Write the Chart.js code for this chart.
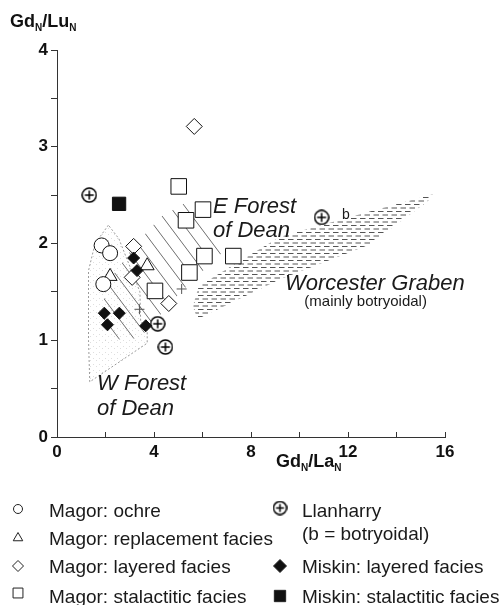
<!DOCTYPE html>
<html>
<head>
<meta charset="utf-8">
<script src="https://cdn.jsdelivr.net/npm/chart.js@4.4.0/dist/chart.umd.min.js"></script>
<style>
  html, body { margin: 0; padding: 0; background: #fff; }
  #wrap { width: 502px; height: 605px; position: relative; }
</style>
</head>
<body>
<div id="wrap"><canvas id="chart"></canvas></div>
<script>
// Gd_N/La_N on x, Gd_N/Lu_N on y
const ochreX = [1.84, 2.19, 1.91];
const ochreY = [1.98, 1.90, 1.58];
const replacementX = [2.19, 3.72];
const replacementY = [1.66, 1.77];
const layeredX = [3.16, 3.10, 4.61, 5.66];
const layeredY = [1.97, 1.65, 1.38, 3.21];
const stalactiticX = [5.02, 5.32, 6.02, 6.08, 7.27, 5.46, 4.04];
const stalactiticY = [2.59, 2.24, 2.35, 1.87, 1.87, 1.70, 1.51];
const llanharryX = [1.33, 4.15, 4.47, 10.91];
const llanharryY = [2.50, 1.17, 0.93, 2.27];
const miskinLayeredX = [3.16, 3.30, 1.95, 2.57, 2.08, 3.66];
const miskinLayeredY = [1.85, 1.72, 1.28, 1.28, 1.16, 1.15];
const miskinStalX = [2.56];
const miskinStalY = [2.41];
const centreX = [5.14, 3.40];
const centreY = [1.53, 1.32];

// field outlines
const wForestX = [2.12, 1.57, 1.30, 1.30, 1.35, 3.72, 3.72, 3.45, 3.42, 2.55, 2.12];
const wForestY = [2.19, 2.00, 1.72, 1.00, 0.57, 0.97, 1.12, 1.20, 1.50, 2.05, 2.19];
const eForestX = [1.90, 1.95, 3.20, 4.30, 5.50, 7.00, 5.10, 3.40, 2.00];
const eForestY = [1.10, 1.55, 1.98, 2.28, 2.45, 1.95, 1.50, 1.02, 1.00];
const worcesterX = [5.60, 5.85, 9.20, 12.90, 15.50, 15.30, 12.90, 9.20, 5.80];
const worcesterY = [1.35, 1.56, 2.07, 2.33, 2.51, 2.44, 1.99, 1.63, 1.22];

const xTicks = [0, 4, 8, 12, 16];
const yTicks = [0, 1, 2, 3, 4];

const FONT = "'Liberation Sans', Arial, sans-serif";
const pts = (xs, ys) => xs.map((x, i) => ({ x: x, y: ys[i] }));

function tile(w, h, draw) {
    const c = document.createElement('canvas');
    c.width = w;
    c.height = h;
    const g = c.getContext('2d');
    draw(g);
    return g.createPattern(c, 'repeat');
}

const hatch = tile(15, 20, g => {
    g.strokeStyle = '#5e5e5e';
    g.lineWidth = 0.9;
    for (const dx of [-15, 0, 15]) {
        g.beginPath();
        g.moveTo(dx - 15, -20);
        g.lineTo(dx + 30, 40);
        g.stroke();
    }
});

const dashes = tile(9, 7, g => {
    g.strokeStyle = '#555';
    g.lineWidth = 1;
    g.beginPath();
    g.moveTo(0, 1.5); g.lineTo(5.5, 1.5);
    g.moveTo(4.5, 5); g.lineTo(10, 5);
    g.moveTo(-4.5, 5); g.lineTo(1, 5);
    g.stroke();
});

const stipple = tile(6, 6, g => {
    g.fillStyle = '#dedede';
    g.fillRect(0, 0, 1, 1);
    g.fillRect(3, 4, 1, 1);
});

function circlePlus(size) {
    const c = document.createElement('canvas');
    c.width = c.height = size;
    const g = c.getContext('2d');
    const m = size / 2, r = size / 2 - 1;
    g.strokeStyle = '#000';
    g.fillStyle = '#fff';
    g.lineWidth = 1.5;
    g.beginPath();
    g.arc(m, m, r, 0, Math.PI * 2);
    g.fill();
    g.stroke();
    g.beginPath();
    g.moveTo(m, m - r + 2.5); g.lineTo(m, m + r - 2.5);
    g.moveTo(m - r + 2.5, m); g.lineTo(m + r - 2.5, m);
    g.stroke();
    return c;
}
const plusIcon = circlePlus(16);
const plusIconSmall = circlePlus(15);

function marker(label, xs, ys, style, radius, fill, extra) {
    return Object.assign({
        label: label,
        data: pts(xs, ys),
        pointStyle: style,
        pointRadius: radius,
        pointHoverRadius: radius,
        backgroundColor: fill,
        borderColor: '#111',
        borderWidth: 1,
        order: 1
    }, extra || {});
}

function field(label, xs, ys, pattern, extra) {
    return Object.assign({
        type: 'line',
        label: label,
        data: pts(xs, ys),
        fill: 'shape',
        backgroundColor: pattern,
        borderColor: 'rgba(0,0,0,0)',
        borderWidth: 1,
        pointRadius: 0,
        pointHitRadius: 0,
        tension: 0
    }, extra || {});
}

// draws text with subscript pieces: [[text, isSub], ...]
function subText(ctx, parts, x, y, size) {
    for (const [t, sub] of parts) {
        ctx.font = 'bold ' + (sub ? Math.round(size * 0.55) : size) + 'px ' + FONT;
        ctx.fillText(t, x, sub ? y + 4 : y);
        x += ctx.measureText(t).width;
    }
}

const annotations = {
    id: 'annotations',
    afterDraw(chart) {
        const { ctx, scales: { x, y } } = chart;
        ctx.save();
        ctx.fillStyle = '#1a1a1a';
        ctx.textBaseline = 'alphabetic';
        ctx.textAlign = 'left';

        ctx.font = 'italic 22px ' + FONT;
        ctx.fillText('E Forest', x.getPixelForValue(6.43), y.getPixelForValue(2.315));
        ctx.fillText('of Dean', x.getPixelForValue(6.43), y.getPixelForValue(2.07));
        ctx.fillText('W Forest', x.getPixelForValue(1.65), y.getPixelForValue(0.486));
        ctx.fillText('of Dean', x.getPixelForValue(1.65), y.getPixelForValue(0.227));
        ctx.fillText('Worcester Graben', x.getPixelForValue(9.4), y.getPixelForValue(1.52), 180);
        ctx.font = '15px ' + FONT;
        ctx.fillText('(mainly botryoidal)', x.getPixelForValue(10.2), y.getPixelForValue(1.35));
        ctx.font = '14px ' + FONT;
        ctx.fillText('b', x.getPixelForValue(11.75), y.getPixelForValue(2.25));

        // axis titles
        ctx.fillStyle = '#111';
        subText(ctx, [['Gd', false], ['N', true], ['/Lu', false], ['N', true]], 10, 27, 18);
        subText(ctx, [['Gd', false], ['N', true], ['/La', false], ['N', true]], 276, 467, 18);

        // legend
        const rows = [
            { sx: 18, sy: 509, ty: 517, style: 'circle', r: 4.5, fill: '#fff', text: ['Magor: ochre'] },
            { sx: 18, sy: 538, ty: 545, style: 'triangle', r: 5.5, fill: '#fff', text: ['Magor: replacement facies'] },
            { sx: 18, sy: 566, ty: 573, style: 'rectRot', r: 5.5, fill: '#fff', text: ['Magor: layered facies'] },
            { sx: 18, sy: 593, ty: 603, style: 'rect', r: 7, fill: '#fff', text: ['Magor: stalactitic facies'] },
            { sx: 280, sy: 508, ty: 517, style: plusIconSmall, r: 7, fill: '#fff', text: ['Llanharry', '(b = botryoidal)'] },
            { sx: 280, sy: 566, ty: 573, style: 'rectRot', r: 6.5, fill: '#111', text: ['Miskin: layered facies'] },
            { sx: 280, sy: 596, ty: 603, style: 'rect', r: 8, fill: '#111', text: ['Miskin: stalactitic facies'] }
        ];
        ctx.font = '19px ' + FONT;
        for (const row of rows) {
            ctx.fillStyle = row.fill;
            ctx.strokeStyle = '#222';
            ctx.lineWidth = 1;
            Chart.helpers.drawPoint(ctx, { pointStyle: row.style, radius: row.r, rotation: 0, borderWidth: 1 }, row.sx, row.sy);
            ctx.fillStyle = '#1a1a1a';
            row.text.forEach((t, i) => ctx.fillText(t, row.sx < 100 ? 49 : 302, row.ty + i * 23));
        }
        ctx.restore();
    }
};

new Chart(document.getElementById('chart'), {
    type: 'scatter',
    data: {
        datasets: [
            marker('Magor: ochre', ochreX, ochreY, 'circle', 7.5, '#fff'),
            marker('Magor: replacement facies', replacementX, replacementY, 'triangle', 8, '#fff'),
            marker('Magor: layered facies', layeredX, layeredY, 'rectRot', 8, '#fff'),
            marker('Magor: stalactitic facies', stalactiticX, stalactiticY, 'rect', 11, '#fff', { order: 2 }),
            marker('Llanharry', llanharryX, llanharryY, plusIcon, 8, '#fff'),
            marker('Miskin: layered facies', miskinLayeredX, miskinLayeredY, 'rectRot', 6, '#111', { order: 0 }),
            marker('Miskin: stalactitic facies', miskinStalX, miskinStalY, 'rect', 9.4, '#111'),
            marker('field centre', centreX, centreY, 'cross', 5, 'rgba(0,0,0,0)', { borderColor: '#555', order: 3 }),
            field('W Forest of Dean', wForestX, wForestY, stipple, { borderColor: '#9a9a9a', borderDash: [2, 2], order: 12 }),
            field('E Forest of Dean', eForestX, eForestY, hatch, { order: 11 }),
            field('Worcester Graben', worcesterX, worcesterY, dashes, { order: 10 })
        ]
    },
    options: {
        responsive: true,
        maintainAspectRatio: false,
        devicePixelRatio: 1,
        animation: false,
        layout: { padding: { top: 50, right: 57, bottom: 134, left: 12 } },
        plugins: {
            legend: { display: false },
            tooltip: { enabled: false }
        },
        scales: {
            x: {
                type: 'linear',
                min: 0,
                max: 16,
                afterFit: s => { s.height = 34; },
                ticks: {
                    stepSize: 2,
                    autoSkip: false,
                    maxRotation: 0,
                    padding: 10,
                    color: '#111',
                    font: { family: FONT, size: 17, weight: 'bold' },
                    callback: v => xTicks.includes(v) ? String(v) : ''
                },
                grid: { drawOnChartArea: false, tickLength: -5, color: '#333' },
                border: { color: '#333', width: 1 }
            },
            y: {
                type: 'linear',
                min: 0,
                max: 4,
                afterFit: s => { s.width = 45; },
                ticks: {
                    stepSize: 0.5,
                    autoSkip: false,
                    padding: 3,
                    color: '#111',
                    font: { family: FONT, size: 17, weight: 'bold' },
                    callback: v => yTicks.includes(v) ? String(v) : ''
                },
                grid: { drawOnChartArea: false, tickLength: 6, color: '#333' },
                border: { color: '#333', width: 1 }
            }
        }
    },
    plugins: [annotations]
});
</script>
</body>
</html>
